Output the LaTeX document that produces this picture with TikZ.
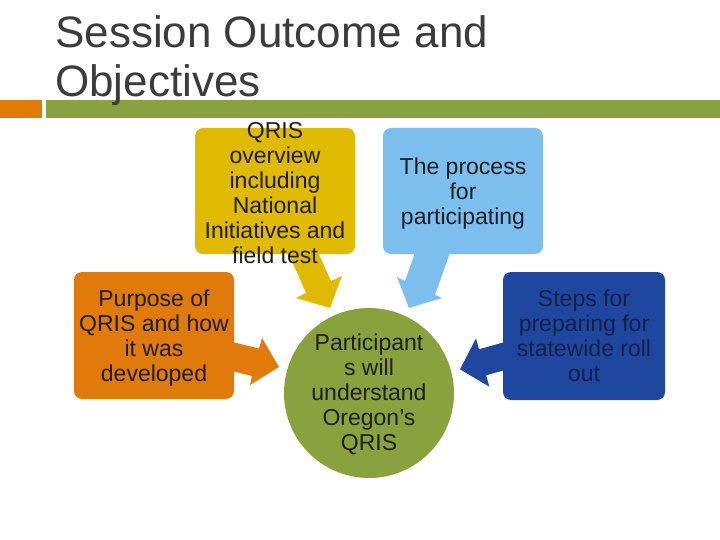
\documentclass[tikz,border=0pt]{standalone}
\usepackage{fontspec}
\setmainfont{Liberation Sans}
\definecolor{cyel}{HTML}{E0BA00}
\definecolor{clb}{HTML}{7CBFEE}
\definecolor{cor}{HTML}{E07A0B}
\definecolor{cdb}{HTML}{2047A0}
\definecolor{cgr}{HTML}{8AA23E}
\definecolor{ctitle}{HTML}{3C3C3C}
\definecolor{ctxt}{HTML}{1E1E1E}
\definecolor{cnavy}{HTML}{13204A}
\begin{document}
\begin{tikzpicture}[x=1pt,y=-1pt,
  box/.style={rounded corners=8pt, minimum width=160pt, minimum height=126pt, inner sep=0pt, draw=none},
  txt/.style={align=center, font=\fontsize{23}{25}\selectfont, text=ctxt, inner sep=0pt},
  ttl/.style={anchor=base west, font=\fontsize{44}{49}\selectfont, text=ctitle, inner sep=0pt}]
\useasboundingbox (0,0) rectangle (720,540);
\fill[white] (0,0) rectangle (720,540);
% title bars
\fill[cor] (0,100) rectangle (42,118);
\fill[cgr] (46,100) rectangle (720,118);
\node[ttl] (t1) at (55,48) {Session Outcome and};
\node[ttl] (t2) at (55,97) {Objectives};
% block arrows
\fill[cyel] (287,250) -- (317,250) -- (331,281) -- (342,276) -- (330,308) -- (296,298) -- (306,293) -- cycle;
\fill[clb] (416,250) -- (451,250) -- (435,295) -- (442,298) -- (409,308) -- (397,277) -- (405,281) -- cycle;
\fill[cor] (228,341) -- (259,348.5) -- (262,338) -- (279,367) -- (250,385) -- (252,376) -- (228,370) -- cycle;
\fill[cdb] (512,340) -- (479,349.3) -- (476,338.3) -- (460,369.3) -- (489.3,386.7) -- (486.2,375.3) -- (512,368) -- cycle;
% boxes
\node[box, fill=cyel] (yb) at (275,191) {};
\node[box, fill=clb] (lb) at (463,191) {};
\node[box, fill=cor, minimum height=127pt] (ob) at (154,335.5) {};
\node[box, fill=cdb, minimum width=162pt, minimum height=128pt] (db) at (584,336) {};
\node[circle, fill=cgr, minimum size=170pt, inner sep=0pt] (cc) at (369,393) {};
% texts
\node[txt, yshift=-2pt] (ybt) at (yb.center) {QRIS\\overview\\including\\National\\Initiatives and\\field test};
\node[txt, yshift=-3pt] (lbt) at (lb.center) {The process\\for\\participating};
\node[txt, yshift=-3pt] (obt) at (ob.center) {Purpose of\\QRIS and how\\it was\\developed};
\node[txt, text=cnavy] (dbt) at (db.center) {Steps for\\preparing for\\statewide roll\\out};
\node[txt, yshift=-1.5pt] (cct) at (cc.center) {Participant\\s will\\understand\\Oregon’s\\QRIS};
\end{tikzpicture}
\end{document}
